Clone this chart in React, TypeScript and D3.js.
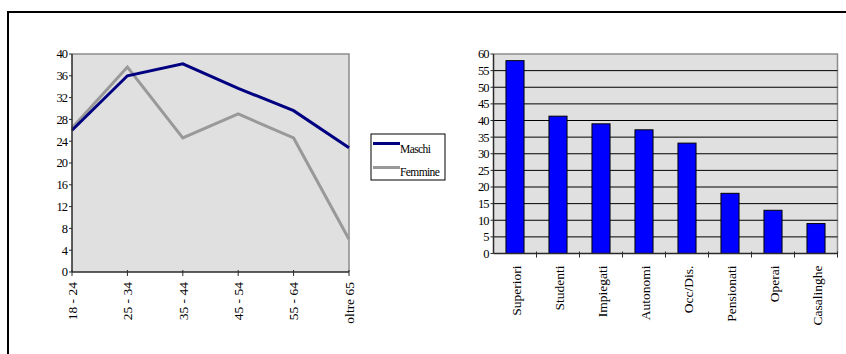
import React from "react";
import * as d3 from "d3";

// Age groups and percentages by gender (line chart)
const ageGroups = ["18 - 24", "25 - 34", "35 - 44", "45 - 54", "55 - 64", "oltre 65"];
const maschi = [26, 36, 38.2, 33.7, 29.6, 22.8];
const femmine = [26.4, 37.6, 24.6, 29, 24.6, 6];
const ageTicks = [0, 4, 8, 12, 16, 20, 24, 28, 32, 36, 40];

// Occupation categories (bar chart)
const professions = ["Superiori", "Studenti", "Impiegati", "Autonomi", "Occ/Dis.", "Pensionati", "Operai", "Casalinghe"];
const profValues = [58, 41.3, 39, 37.2, 33.2, 18.1, 13, 9];
const profTicks = [0, 5, 10, 15, 20, 25, 30, 35, 40, 45, 50, 55, 60];

const FONT = "'Liberation Serif', 'Times New Roman', serif";
const PLOT_BG = "#e0e0e0";
const BORDER = "#8c8c8c";
const AXIS = "#2a2a2a";

const tickStyle: React.CSSProperties = { fontFamily: FONT, fontSize: 12.5, letterSpacing: -1 };
const catStyle: React.CSSProperties = { fontFamily: FONT, fontSize: 13.5 };
const legendStyle: React.CSSProperties = { fontFamily: FONT, fontSize: 11.5, letterSpacing: -0.6 };

function LineChart() {
  const left = 72, right = 349, top = 54, bottom = 272;
  const x = d3.scalePoint<string>().domain(ageGroups).range([left, right]);
  const y = d3.scaleLinear().domain([0, 40]).range([bottom, top]);
  const line = d3
    .line<number>()
    .x((_, i) => x(ageGroups[i]) as number)
    .y((d) => y(d));
  return (
    <g>
      <rect x={left} y={top} width={right - left} height={bottom - top} fill={PLOT_BG} />
      <path d={`M${left},${top}H${right}V${bottom}`} fill="none" stroke={BORDER} strokeWidth={1.5} />
      <path d={line(femmine) || ""} fill="none" stroke="#999999" strokeWidth={3} />
      <path d={line(maschi) || ""} fill="none" stroke="#000080" strokeWidth={3} />
      <line x1={left} x2={left} y1={top} y2={bottom} stroke={AXIS} strokeWidth={1.5} />
      <line x1={left} x2={right} y1={bottom} y2={bottom} stroke={AXIS} strokeWidth={1.5} />
      {ageTicks.map((t) => (
        <g key={t}>
          <line x1={left - 3} x2={left} y1={y(t)} y2={y(t)} stroke={AXIS} strokeWidth={1} />
          <text x={left - 5} y={y(t)} dy="0.35em" textAnchor="end" style={tickStyle}>
            {t}
          </text>
        </g>
      ))}
      {ageGroups.map((g) => (
        <g key={g}>
          <line x1={x(g)} x2={x(g)} y1={bottom - 2} y2={bottom + 4} stroke={AXIS} strokeWidth={1} />
          <text
            transform={`translate(${x(g)},${bottom + 10}) rotate(-90)`}
            dy="0.35em"
            textAnchor="end"
            style={{ ...catStyle, whiteSpace: "pre" }}
          >
            {g}
          </text>
        </g>
      ))}
      {/* legend */}
      <rect x={371} y={134} width={74} height={46} fill="white" stroke="#000" strokeWidth={1} />
      <line x1={373} x2={400} y1={143.5} y2={143.5} stroke="#000080" strokeWidth={3} />
      <text x={400} y={153} style={legendStyle}>Maschi</text>
      <line x1={373} x2={400} y1={167.5} y2={167.5} stroke="#999999" strokeWidth={3} />
      <text x={400} y={176} style={legendStyle}>Femmine</text>
    </g>
  );
}

function BarChart() {
  const left = 493.5, right = 837.5, top = 54, bottom = 253.5;
  const x = d3.scaleBand<string>().domain(professions).range([left, right]).paddingInner(0.58).paddingOuter(0.29);
  const band = d3.scaleBand<string>().domain(professions).range([left, right]);
  const y = d3.scaleLinear().domain([0, 60]).range([bottom, top]);
  return (
    <g>
      <rect x={left} y={top} width={right - left} height={bottom - top} fill={PLOT_BG} />
      <path d={`M${left},${top}H${right}V${bottom}`} fill="none" stroke={BORDER} strokeWidth={1.5} />
      {profTicks.slice(1, -1).map((t) => (
        <line key={t} x1={left} x2={right} y1={y(t)} y2={y(t)} stroke="#000" strokeWidth={1} />
      ))}
      {professions.map((p, i) => (
        <rect
          key={p}
          x={x(p)}
          y={y(profValues[i])}
          width={x.bandwidth()}
          height={bottom - y(profValues[i])}
          fill="#0000ff"
          stroke="#000"
          strokeWidth={1}
        />
      ))}
      <line x1={left} x2={left} y1={top} y2={bottom} stroke={AXIS} strokeWidth={1.5} />
      <line x1={left} x2={right} y1={bottom} y2={bottom} stroke={AXIS} strokeWidth={1.5} />
      {profTicks.map((t) => (
        <g key={t}>
          <line x1={left - 3} x2={left} y1={y(t)} y2={y(t)} stroke={AXIS} strokeWidth={1} />
          <text x={left - 5} y={y(t)} dy="0.35em" textAnchor="end" style={tickStyle}>
            {t}
          </text>
        </g>
      ))}
      {professions.map((p) => (
        <line
          key={p + "-tick"}
          x1={(band(p) as number) + band.bandwidth()}
          x2={(band(p) as number) + band.bandwidth()}
          y1={bottom - 2}
          y2={bottom + 4}
          stroke={AXIS}
          strokeWidth={1}
        />
      ))}
      {professions.map((p) => (
        <text
          key={p + "-label"}
          transform={`translate(${(band(p) as number) + band.bandwidth() / 2 + 1},${bottom + 12}) rotate(-90)`}
          dy="0.35em"
          textAnchor="end"
          style={catStyle}
        >
          {p}
        </text>
      ))}
    </g>
  );
}

export default function App() {
  return (
    <svg
      width={846}
      height={354}
      style={{ position: "absolute", left: 0, top: 0, background: "white", fontFamily: FONT }}
    >
      <rect x={0} y={0} width={846} height={354} fill="white" />
      <rect x={8} y={12} width={900} height={400} fill="none" stroke="#000" strokeWidth={2} />
      <LineChart />
      <BarChart />
    </svg>
  );
}
